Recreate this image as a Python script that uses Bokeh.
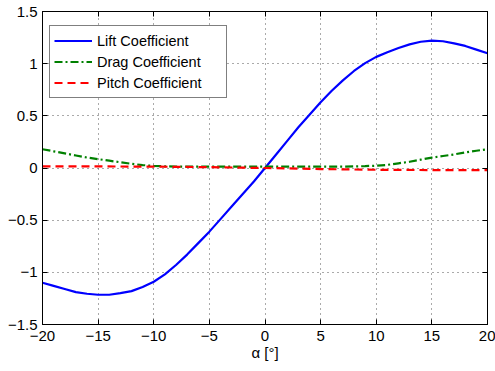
from bokeh.plotting import figure
from bokeh.models import (Range1d, FixedTicker, LinearAxis, Legend, LegendItem,
                          CustomJSTickFormatter)
from bokeh.embed import file_html
from bokeh.resources import INLINE

alpha = list(range(-20, 21))
lift = [-1.10, -1.13, -1.16, -1.19, -1.205, -1.215, -1.215, -1.20, -1.18, -1.14,
        -1.09, -1.02, -0.93, -0.83, -0.72, -0.61, -0.49, -0.37, -0.25, -0.13,
        0.00, 0.13, 0.26, 0.39, 0.51, 0.63, 0.74, 0.84, 0.93, 1.005,
        1.065, 1.11, 1.15, 1.185, 1.21, 1.22, 1.215, 1.195, 1.17, 1.135, 1.10]
drag = [0.18, 0.16, 0.14, 0.12, 0.10, 0.085, 0.07, 0.055, 0.04, 0.028,
        0.02, 0.016, 0.014, 0.013, 0.013, 0.013, 0.013, 0.013, 0.013, 0.013,
        0.013, 0.013, 0.013, 0.013, 0.013, 0.013, 0.013, 0.013, 0.015, 0.018,
        0.022, 0.03, 0.045, 0.06, 0.08, 0.10, 0.115, 0.13, 0.15, 0.165, 0.18]
pitch_alpha = [-20, -15, -10, -5, 0, 5, 10, 15, 20]
pitch = [0.015, 0.015, 0.013, 0.008, 0.0, -0.01, -0.017, -0.02, -0.02]

x_ticks = [-20, -15, -10, -5, 0, 5, 10, 15, 20]
y_ticks = [-1.5, -1, -0.5, 0, 0.5, 1, 1.5]

FONT = "Liberation Sans"

p = figure(width=495, height=371, output_backend="svg", toolbar_location=None,
           x_range=Range1d(-20, 20), y_range=Range1d(-1.5, 1.5),
           min_border_left=42, min_border_right=8, min_border_top=11, min_border_bottom=47)
p.background_fill_color = "white"
p.border_fill_color = "white"
p.outline_line_color = "black"
p.outline_line_width = 1

fmt = CustomJSTickFormatter(code="return tick < 0 ? '\\u2212' + String(Math.abs(tick)) : String(tick);")
blank = CustomJSTickFormatter(code="return '';")

for ax, ticks in ((p.xaxis[0], x_ticks), (p.yaxis[0], y_ticks)):
    ax.ticker = FixedTicker(ticks=ticks)
    ax.formatter = fmt
    ax.major_tick_in = 5
    ax.major_tick_out = 0
    ax.minor_tick_line_color = None
    ax.axis_line_color = "black"
    ax.major_tick_line_color = "black"
    ax.major_label_text_font = FONT
    ax.major_label_text_font_size = "15px"
    ax.major_label_text_color = "black"

p.xaxis.major_label_standoff = 6
p.yaxis.major_label_standoff = 5
p.xaxis.axis_label = "α [°]"
p.xaxis.axis_label_text_font = FONT
p.xaxis.axis_label_text_font_size = "15px"
p.xaxis.axis_label_text_font_style = "normal"
p.xaxis.axis_label_text_color = "black"
p.xaxis.axis_label_standoff = 0

for loc, ticks in (("above", x_ticks), ("right", y_ticks)):
    ax = LinearAxis(ticker=FixedTicker(ticks=ticks), formatter=blank,
                    major_tick_in=5, major_tick_out=0,
                    minor_tick_line_color=None, major_label_standoff=0,
                    axis_line_color="black")
    p.add_layout(ax, loc)

p.xgrid.ticker = FixedTicker(ticks=x_ticks)
p.ygrid.ticker = FixedTicker(ticks=y_ticks)
p.grid.grid_line_color = "#555555"
p.grid.grid_line_dash = "1 4"
p.grid.grid_line_width = 1

r1 = p.line(alpha, lift, line_color="#0000ff", line_width=2.2)
r2 = p.line(alpha, drag, line_color="#008000", line_width=2.2, line_dash="8 3 2 3")
r3 = p.line(pitch_alpha, pitch, line_color="#ff0000", line_width=2.2, line_dash="8 5")

legend = Legend(items=[LegendItem(label="Lift Coefficient", renderers=[r1]),
                       LegendItem(label="Drag Coefficient", renderers=[r2]),
                       LegendItem(label="Pitch Coefficient", renderers=[r3])],
                location=(7, 226))
legend.label_text_font = FONT
legend.label_text_font_size = "14.5px"
legend.label_text_color = "black"
legend.glyph_width = 38
legend.glyph_height = 21
legend.label_height = 21
legend.label_width = 125
legend.label_standoff = 5
legend.spacing = 0
legend.padding = 4
legend.margin = 0
legend.border_line_color = "black"
legend.border_line_width = 1
legend.background_fill_alpha = 1
p.add_layout(legend, "center")

open("out.html", "w").write(file_html(p, INLINE))
